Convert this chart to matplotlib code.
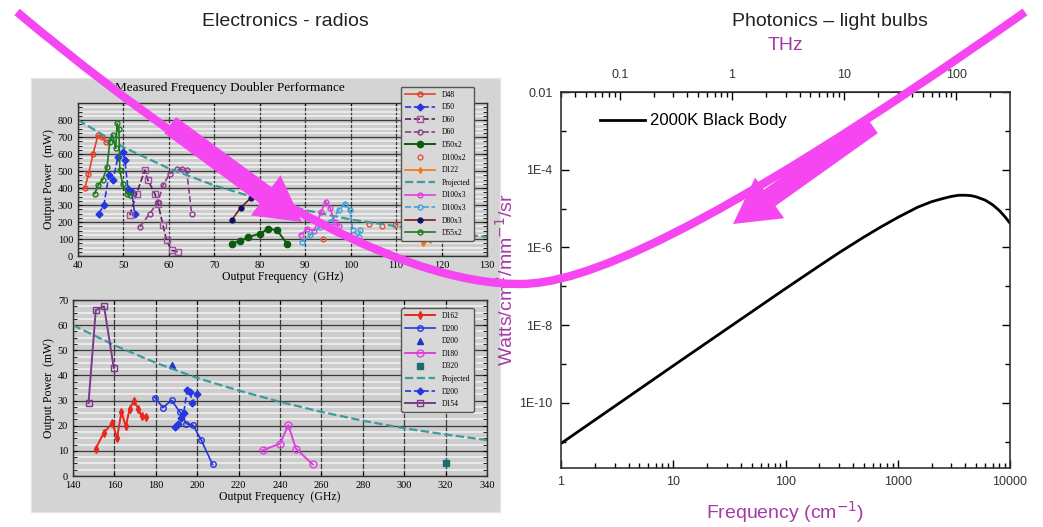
import matplotlib.pyplot as plt
from matplotlib.patches import Rectangle, FancyArrow, PathPatch
from matplotlib.path import Path
from matplotlib.ticker import FixedLocator, MultipleLocator, NullFormatter, LogLocator

# ---- data: upper doubler panel (GHz, mW) ----
d48_f = [41.5, 42.3, 43.3, 44.4, 45.3, 46.2]
d48_p = [400, 480, 600, 710, 700, 670]
d50_f = [44.6, 45.7, 46.8, 47.7, 48.8, 49.9, 50.3, 51.0, 51.8, 52.5]
d50_p = [250, 300, 475, 446, 583, 613, 564, 397, 377, 245]
d60a_f = [51.4, 52.9, 54.7, 55.4, 56.9, 57.6, 58.7, 59.5, 60.6, 62.1]
d60a_p = [240, 367, 505, 446, 367, 308, 181, 92, 33, 24]
d60b_f = [53.6, 55.8, 57.6, 58.7, 60.2, 61.7, 62.8, 63.9, 65.0]
d60b_p = [171, 250, 318, 416, 485, 509, 509, 505, 250]
d50x2_f = [73.8, 75.7, 77.5, 80.1, 81.9, 83.8, 86.0]
d50x2_p = [73, 88, 112, 132, 161, 151, 73]
d100x2_f = [94, 104, 107, 109.8, 112]
d100x2_p = [100, 190, 175, 182, 141]
d122_f = [116, 117.5, 119, 120.5, 122, 123, 124, 125, 126, 127]
d122_p = [75, 95, 110, 110, 115, 135, 160, 150, 130, 120]
proj1_f = [40, 50, 60, 70, 80, 90, 100, 110, 120, 130]
proj1_p = [800, 640, 515, 415, 335, 270, 215, 175, 140, 112]
d100x3a_f = [89, 90.5, 92, 93.5, 94.5, 95.5, 96.5, 97.5]
d100x3a_p = [125, 160, 150, 260, 320, 280, 200, 175]
d100x3b_f = [89.3, 91.1, 93.3, 95.5, 97.4, 98.8, 99.8, 100.5, 101.8, 102.1]
d100x3b_p = [83, 122, 171, 200, 269, 308, 269, 151, 112, 151]
d80x3_f = [73.8, 75.8, 78.0]
d80x3_p = [210, 285, 340]
d55x2_f = [43.7, 44.4, 45.4, 46.4, 47.0, 47.6, 48.3, 48.6, 49.0, 49.2, 49.8, 50.7, 51.4]
d55x2_p = [367, 416, 446, 525, 672, 711, 633, 780, 750, 505, 426, 367, 357]
power1_ticks = [0, 100, 200, 300, 400, 500, 600, 700, 800]

# ---- data: lower doubler panel (GHz, mW) ----
d162_f = [151, 154.8, 159, 161.3, 163.4, 165.5, 167.4, 169.4, 171.5, 173.1, 175.5]
d162_p = [10.9, 17.1, 21.1, 15.1, 25.5, 19.8, 26.8, 29.9, 26.8, 23.8, 23.5]
d200a_f = [179.5, 183.5, 187.6, 191.6, 194.8, 198, 202, 207.4]
d200a_p = [31.2, 27.2, 30.1, 25.5, 20.8, 20.2, 14.2, 4.6]
d200t_f = [187.6]
d200t_p = [44]
d180_f = [231.6, 240, 244, 247.7, 255.8]
d180_p = [10.2, 12.9, 20.2, 10.9, 4.6]
d320_f = [320]
d320_p = [5.2]
proj2_f = [140, 160, 180, 200, 220, 240, 260, 280, 300, 320, 340]
proj2_p = [60, 52, 45, 39, 34, 29.5, 25.5, 22, 19, 16.5, 14.3]
d200b_f = [189.2, 190.8, 192.4, 193.5, 195.2, 196.5, 197.7, 199.7]
d200b_p = [19.5, 20.6, 23.2, 25.1, 34.4, 33.5, 29.1, 32.5]
d154_f = [147.5, 151, 155, 159.7]
d154_p = [29, 66, 67.5, 43]

# ---- data: 2000K black body (cm^-1, W/cm2/mm-1/sr) ----
bb_wn = [1, 2, 5, 10, 20, 50, 100, 200, 300, 500, 700, 1000, 1500, 2000, 2500,
         3000, 3500, 4000, 4500, 5000, 6000, 7000, 8000, 9000, 10000]
bb_val = [9.0e-12, 3.6e-11, 2.25e-10, 9.0e-10, 3.57e-9, 2.2e-8, 8.7e-8, 3.35e-7, 7.3e-7,
          1.85e-6, 3.3e-6, 5.9e-6, 1.08e-5, 1.5e-5, 1.8e-5, 2.05e-5, 2.2e-5, 2.2e-5,
          2.15e-5, 2.0e-5, 1.65e-5, 1.25e-5, 9.0e-6, 6.2e-6, 4.2e-6]
thz_ticks = [0.1, 1, 10, 100]
ytick_vals = [1e-2, 1e-4, 1e-6, 1e-8, 1e-10]
ytick_text = ['0.01', '1E-4', '1E-6', '1E-8', '1E-10']

W, H = 1043, 527
fig = plt.figure(figsize=(W / 100, H / 100), dpi=100)


def box(l, t, r, b):
    return [l / W, 1 - b / H, (r - l) / W, (b - t) / H]


def ptext(x, y, s, **kw):
    fig.text(x / W, 1 - y / H, s, ha='center', va='center', **kw)


serif = 'Liberation Serif'
sans = 'Liberation Sans'
purple = '#a53aa5'

# grey panel behind the two radio charts
bg = fig.add_axes([0, 0, 1, 1], zorder=-5)
bg.set_xlim(0, W)
bg.set_ylim(H, 0)
bg.axis('off')
bg.add_patch(Rectangle((31, 78), 469, 434, facecolor='#d4d4d4', edgecolor='#e6e6e6', lw=1))


def style_doubler(ax, xmaj, ymaj, ymin):
    ax.set_facecolor('#cdcdcd')
    ax.xaxis.set_major_locator(MultipleLocator(xmaj))
    ax.yaxis.set_major_locator(MultipleLocator(ymaj))
    ax.yaxis.set_minor_locator(MultipleLocator(ymin))
    ax.grid(True, which='minor', axis='y', color='#f2f2f2', lw=1.1)
    ax.grid(True, which='major', color='#3a3a3a', lw=0.9)
    ax.set_axisbelow(True)
    ax.tick_params(which='both', direction='in', top=True, right=True, labelsize=7.5, length=3)
    for s in ax.spines.values():
        s.set_color('#333333')
        s.set_linewidth(1)


# ---- upper doubler chart ----
ax1 = fig.add_axes(box(78, 103, 487, 256))
ax1.plot(d48_f, d48_p, '-o', color='#e8402a', mfc='none', ms=3.5, lw=1.2, label='D48')
ax1.plot(d50_f, d50_p, '--D', color='#2636e0', ms=3.5, lw=1.2, label='D50')
ax1.plot(d60a_f, d60a_p, '--s', color='#5c1f5c', mfc='none', mec='#a050a0', ms=4.5, lw=1.2, label='D60')
ax1.plot(d60b_f, d60b_p, '--o', color='#8a3f8a', mfc='none', ms=3.5, lw=1.2, label='D60')
ax1.plot(d50x2_f, d50x2_p, '-o', color='#0c5a0c', ms=4.5, lw=1.4, label='D50x2')
ax1.plot(d100x2_f, d100x2_p, 'o', color='#e85040', mfc='none', ms=3.5, label='D100x2')
ax1.plot(d122_f, d122_p, '-d', color='#f07a10', ms=3, lw=1.2, label='D122')
ax1.plot(proj1_f, proj1_p, '--', color='#3c9c9c', lw=1.6, label='Projected')
ax1.plot(d100x3a_f, d100x3a_p, '-o', color='#e040e0', mfc='none', ms=3.5, lw=1.2, label='D100x3')
ax1.plot(d100x3b_f, d100x3b_p, '--o', color='#3fa2d8', mfc='none', ms=3.5, lw=1.2, label='D100x3')
ax1.plot(d80x3_f, d80x3_p, '-o', color='#7a2020', mfc='#101060', mec='#101060', ms=3.5, lw=1.2, label='D80x3')
ax1.plot(d55x2_f, d55x2_p, '-o', color='#1d7a1d', mfc='none', ms=3.5, lw=1.2, label='D55x2')
ax1.set_xlim(40, 130)
ax1.set_ylim(0, 900)
style_doubler(ax1, 10, 100, 25)
ax1.yaxis.set_major_locator(FixedLocator(power1_ticks))
for lab in ax1.get_xticklabels() + ax1.get_yticklabels():
    lab.set_fontfamily(serif)
ax1.set_xlabel('Output Frequency  (GHz)', fontfamily=serif, fontsize=8.5, labelpad=1)
ax1.set_ylabel('Output Power  (mW)', fontfamily=serif, fontsize=8.5, labelpad=2)
leg1 = ax1.legend(loc='upper left', bbox_to_anchor=(0.78, 1.13), labelspacing=0.6,
                  handlelength=4, borderpad=0.5, fancybox=True, framealpha=1,
                  facecolor='#d8d8d8', edgecolor='#555555', prop={'family': serif, 'size': 5.5})
leg1.set_zorder(5)
ptext(230, 88, 'Measured Frequency Doubler Performance', fontfamily=serif, fontsize=9.5)

# ---- lower doubler chart ----
ax2 = fig.add_axes(box(73, 300, 487, 476))
ax2.plot(d162_f, d162_p, '-d', color='#e8281c', ms=4, lw=1.4, label='D162')
ax2.plot(d200a_f, d200a_p, '-o', color='#2436dc', mfc='none', ms=4, lw=1.2, label='D200')
ax2.plot(d200t_f, d200t_p, '^', color='#2030d0', ms=5, label='D200')
ax2.plot(d180_f, d180_p, '-o', color='#e040e0', mfc='none', ms=5, lw=1.4, label='D180')
ax2.plot(d320_f, d320_p, 's', color='#1c6e6e', ms=4, label='D320')
ax2.plot(proj2_f, proj2_p, '--', color='#3c9c9c', lw=1.6, label='Projected')
ax2.plot(d200b_f, d200b_p, '--D', color='#2636e0', ms=3.5, lw=1.2, label='D200')
ax2.plot(d154_f, d154_p, '-s', color='#7a3a8a', mfc='none', ms=5, lw=1.4, label='D154')
ax2.set_xlim(140, 340)
ax2.set_ylim(0, 70)
style_doubler(ax2, 20, 10, 2.5)
for lab in ax2.get_xticklabels() + ax2.get_yticklabels():
    lab.set_fontfamily(serif)
ax2.set_xlabel('Output Frequency  (GHz)', fontfamily=serif, fontsize=8.5, labelpad=1)
ax2.set_ylabel('Output Power  (mW)', fontfamily=serif, fontsize=8.5, labelpad=2)
ax2.legend(loc='upper left', bbox_to_anchor=(0.783, 0.975), labelspacing=0.6,
           handlelength=4, borderpad=0.5, fancybox=True, framealpha=1,
           facecolor='#d8d8d8', edgecolor='#555555', prop={'family': serif, 'size': 5.5})

# ---- black body chart ----
ax3 = fig.add_axes(box(561, 92, 1010, 468))
ax3.loglog(bb_wn, bb_val, color='black', lw=2, label='2000K Black Body')
ax3.set_xlim(1, 10000)
ax3.set_ylim(2.1e-12, 1e-2)
ax3.set_yticks(ytick_vals)
ax3.set_yticklabels(ytick_text)
ax3.yaxis.set_minor_locator(FixedLocator([1e-3, 1e-5, 1e-7, 1e-9, 1e-11]))
ax3.yaxis.set_minor_formatter(NullFormatter())
ax3.set_xticks([1, 10, 100, 1000, 10000])
ax3.set_xticklabels(['1', '10', '100', '1000', '10000'])
ax3.xaxis.set_minor_locator(LogLocator(base=10, subs=range(2, 10), numticks=20))
ax3.xaxis.set_minor_formatter(NullFormatter())
ax3.tick_params(which='major', direction='in', length=6, width=1, right=True, labelsize=9,
                labelcolor='#333333', pad=6)
ax3.tick_params(which='minor', direction='in', length=3.5, width=1, right=True)
for s in ax3.spines.values():
    s.set_linewidth(1.2)
    s.set_color('#333333')
for lab in ax3.get_xticklabels() + ax3.get_yticklabels():
    lab.set_fontfamily(sans)

sec = ax3.secondary_xaxis('top', functions=(lambda x: x * 0.02998, lambda x: x / 0.02998))
sec.set_xticks(thz_ticks)
sec.set_xticklabels(['0.1', '1', '10', '100'])
sec.xaxis.set_minor_locator(LogLocator(base=10, subs=range(2, 10), numticks=20))
sec.xaxis.set_minor_formatter(NullFormatter())
sec.tick_params(which='major', direction='in', length=6, width=1, labelsize=9,
                labelcolor='#333333', pad=8)
sec.tick_params(which='minor', direction='in', length=3.5, width=1)
for lab in sec.get_xticklabels():
    lab.set_fontfamily(sans)

ax3.legend(loc='center left', bbox_to_anchor=(0.087, 0.923), frameon=False, borderpad=0,
           borderaxespad=0, handlelength=2.7, handletextpad=0.3,
           prop={'family': sans, 'size': 12})
ax3.set_xlabel('Frequency (cm$^{-1}$)', color=purple, fontfamily=sans, fontsize=14, labelpad=8)
ax3.set_ylabel('Watts/cm$^{2}$/mm$^{-1}$/sr', color=purple, fontfamily=sans, fontsize=14, labelpad=2)

ptext(785, 45, 'THz', color=purple, fontfamily=sans, fontsize=14)
ptext(285, 22, 'Electronics - radios', fontfamily=sans, fontsize=14, color='#222222')
ptext(830, 22, 'Photonics \u2013 light bulbs', fontfamily=sans, fontsize=14, color='#222222')

# ---- magenta swoosh and arrows on top ----
ov = fig.add_axes([0, 0, 1, 1], zorder=10)
ov.set_xlim(0, W)
ov.set_ylim(H, 0)
ov.axis('off')
ov.patch.set_alpha(0)
pink = '#f646f2'
swoosh = Path([(17, 12), (260, 215), (420, 284), (520, 284), (580, 284), (700, 240), (1025, 12)],
              [Path.MOVETO] + [Path.CURVE4] * 6)
ov.add_patch(PathPatch(swoosh, facecolor='none', edgecolor=pink, lw=6, capstyle='butt'))
ov.add_patch(FancyArrow(170, 125, 132, 97, width=20, head_width=50, head_length=45,
                        length_includes_head=True, color=pink, lw=0))
ov.add_patch(FancyArrow(872, 125, -139, 99, width=20, head_width=50, head_length=45,
                        length_includes_head=True, color=pink, lw=0))

fig.savefig('out.png', dpi=100)
